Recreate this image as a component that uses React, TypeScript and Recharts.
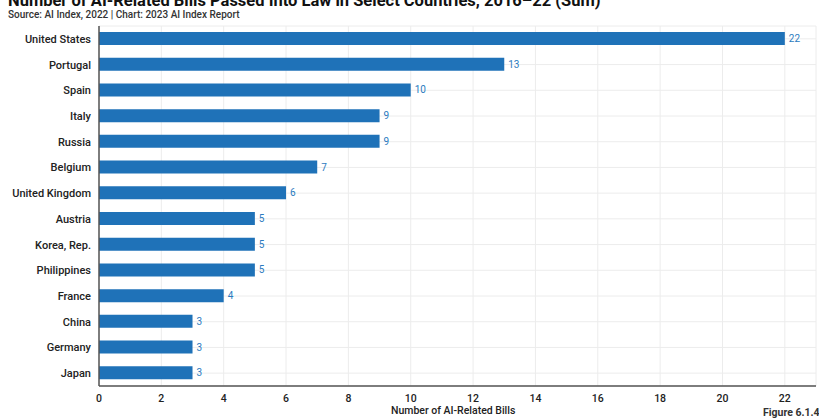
import React from 'react';
import { BarChart, Bar, XAxis, YAxis, CartesianGrid, LabelList } from 'recharts';

const countries = [
  'United States',
  'Portugal',
  'Spain',
  'Italy',
  'Russia',
  'Belgium',
  'United Kingdom',
  'Austria',
  'Korea, Rep.',
  'Philippines',
  'France',
  'China',
  'Germany',
  'Japan',
];
const bills = [22, 13, 10, 9, 9, 7, 6, 5, 5, 5, 4, 3, 3, 3];
const xTicks = [0, 2, 4, 6, 8, 10, 12, 14, 16, 18, 20, 22];

const data = countries.map((country, i) => ({ country, bills: bills[i] }));

const FONT = 'Roboto, "Liberation Sans", sans-serif';

// single-line category tick so long names don't wrap
const CountryTick = (props: any) => {
  const { x, y, payload } = props;
  return (
    <text x={x} y={y} dy={4} textAnchor="end" fill="#222" fontSize={11} fontWeight={500} fontFamily={FONT}>
      {payload.value}
    </text>
  );
};

const App: React.FC = () => {
  return (
    <div style={{ position: 'absolute', left: 0, top: 0, width: 819, height: 418, background: '#fff', fontFamily: FONT, overflow: 'hidden' }}>
      <div style={{ position: 'absolute', left: 8, top: -9, fontSize: 16.5, fontWeight: 700, color: '#111', whiteSpace: 'nowrap' }}>
        Number of AI-Related Bills Passed Into Law in Select Countries, 2016–22 (Sum)
      </div>
      <div style={{ position: 'absolute', left: 8, top: 9, fontSize: 10, fontWeight: 500, color: '#333', whiteSpace: 'nowrap' }}>
        Source: AI Index, 2022 | Chart: 2023 AI Index Report
      </div>
      <BarChart
        width={819}
        height={418}
        data={data}
        layout="vertical"
        margin={{ top: 26, right: 3, bottom: 8, left: 0 }}
      >
        <CartesianGrid stroke="#ececec" strokeWidth={1} />
        <XAxis
          type="number"
          dataKey="bills"
          domain={[0, 23]}
          ticks={xTicks}
          interval={0}
          height={24}
          tick={{ fill: '#222', fontSize: 10.5, fontWeight: 500, fontFamily: FONT }}
          tickLine={false}
          axisLine={{ stroke: '#555', strokeWidth: 1.5 }}
          tickMargin={3}
        />
        <YAxis
          type="category"
          dataKey="country"
          width={99}
          tick={<CountryTick />}
          tickLine={false}
          axisLine={{ stroke: '#555', strokeWidth: 1.5 }}
          tickMargin={2}
          interval={0}
        />
        <Bar dataKey="bills" fill="#1f72b8" barSize={13} isAnimationActive={false}>
          <LabelList dataKey="bills" position="right" offset={4} fill="#2b7bc0" fontSize={10} fontFamily={FONT} />
        </Bar>
      </BarChart>
      <div style={{ position: 'absolute', left: 391, top: 404, fontSize: 10.5, fontWeight: 500, color: '#222', whiteSpace: 'nowrap' }}>
        Number of AI-Related Bills
      </div>
      <div style={{ position: 'absolute', left: 763, top: 406, fontSize: 10.5, fontWeight: 700, color: '#333', whiteSpace: 'nowrap' }}>
        Figure 6.1.4
      </div>
    </div>
  );
};

export default App;
